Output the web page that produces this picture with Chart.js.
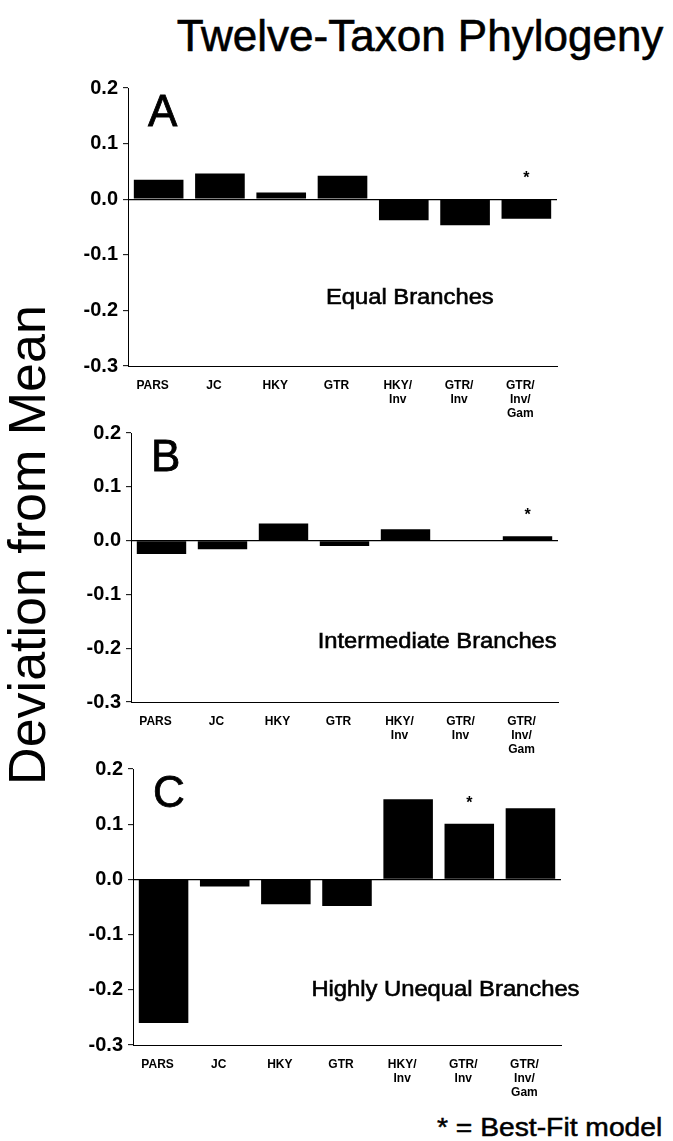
<!DOCTYPE html>
<html>
<head>
<meta charset="utf-8">
<script src="https://cdn.jsdelivr.net/npm/chart.js@4.4.1/dist/chart.umd.min.js"></script>
<style>
  html, body { margin:0; padding:0; background:#fff; }
  body { width:673px; height:1141px; position:relative; overflow:hidden; font-family:"Liberation Sans", Arial, sans-serif; }
  .cv { position:absolute; left:0; width:673px; }
  #title { position:absolute; left:420px; top:14px; transform:translateX(-50%); font-size:44px; white-space:nowrap; color:#000; line-height:1; -webkit-text-stroke:0.6px #000; }
  #ylab { position:absolute; left:27px; top:545px; transform:translate(-50%,-50%) rotate(-90deg); font-size:52px; white-space:nowrap; color:#000; line-height:1; }
  #foot { position:absolute; left:437px; top:1115px; font-size:25px; white-space:nowrap; color:#000; line-height:1; transform-origin:left center; transform:scaleX(1.13); -webkit-text-stroke:0.5px #000; }
</style>
</head>
<body>
<div id="title">Twelve-Taxon Phylogeny</div>
<div id="ylab">Deviation from Mean</div>
<canvas id="cA" class="cv" style="top:70px" width="673" height="358"></canvas>
<canvas id="cB" class="cv" style="top:416px" width="673" height="348"></canvas>
<canvas id="cC" class="cv" style="top:752px" width="673" height="355"></canvas>
<div id="foot">* = Best-Fit model</div>
<script>
// ---- data ----
const categories = ['PARS', 'JC', 'HKY', 'GTR', ['HKY/', 'Inv'], ['GTR/', 'Inv'], ['GTR/', 'Inv/', 'Gam']];
const equalBranches        = [0.035, 0.046, 0.012, 0.042, -0.038, -0.047, -0.035];
const intermediateBranches = [-0.025, -0.016, 0.032, -0.010, 0.021, 0.001, 0.008];
const unequalBranches      = [-0.260, -0.013, -0.045, -0.048, 0.145, 0.101, 0.129];
const bestFitA = 6, bestFitB = 6, bestFitC = 5;
const panelLetters = ['A', 'B', 'C'];
const panelNames = ['Equal Branches', 'Intermediate Branches', 'Highly Unequal Branches'];
const yMin = -0.3, yMax = 0.2, yStep = 0.1;

const FONT = '"Liberation Sans", Arial, sans-serif';

function makePanel(id, values, star, letter, name, lay) {
  const annot = {
    id: 'annot_' + id,
    afterDatasetsDraw(chart) {
      const {ctx, chartArea: ca, scales: {x, y}} = chart;
      ctx.save();
      ctx.fillStyle = '#000';
      ctx.strokeStyle = '#000';
      // panel letter
      ctx.font = '44px ' + FONT;
      ctx.textAlign = 'left';
      ctx.textBaseline = 'top';
      ctx.lineWidth = 0.8;
      ctx.fillText(letter, ca.left + lay.letterDx, ca.top + lay.letterDy);
      ctx.strokeText(letter, ca.left + lay.letterDx, ca.top + lay.letterDy);
      // subtitle
      ctx.font = '22px ' + FONT;
      ctx.textAlign = 'center';
      ctx.textBaseline = 'middle';
      ctx.lineWidth = 0.6;
      const nx = ca.left + lay.nameFx * (ca.right - ca.left), ny = ca.top + lay.nameFy * (ca.bottom - ca.top);
      ctx.save();
      ctx.translate(nx, ny);
      ctx.scale(1.08, 1);
      ctx.fillText(name, 0, 0);
      ctx.strokeText(name, 0, 0);
      ctx.restore();
      // best-fit asterisk
      const px = x.getPixelForValue(star);
      const py = y.getPixelForValue(Math.max(values[star], 0));
      ctx.font = 'bold 16px ' + FONT;
      ctx.textBaseline = 'alphabetic';
      ctx.fillText('*', px, py - 16);
      ctx.restore();
    }
  };
  return new Chart(document.getElementById(id), {
    type: 'bar',
    data: {
      labels: categories,
      datasets: [{
        data: values,
        backgroundColor: '#000',
        borderWidth: 0,
        categoryPercentage: 1.0,
        barPercentage: 0.81
      }]
    },
    options: {
      responsive: false,
      animation: false,
      devicePixelRatio: 1,
      layout: { padding: { top: lay.top, right: lay.right, left: 0, bottom: 0 } },
      plugins: { legend: { display: false }, tooltip: { enabled: false }, title: { display: false } },
      scales: {
        x: {
          grid: { display: false },
          border: { display: true, color: '#000', width: 1 },
          ticks: { color: '#000', font: { family: FONT, size: 12, weight: 'bold', lineHeight: 1.2 }, padding: 4, labelOffset: -6, maxRotation: 0, autoSkip: false },
          afterFit(s) { s.height = lay.xh; }
        },
        y: {
          min: yMin, max: yMax,
          grid: {
            color: c => (c.tick && Math.abs(c.tick.value) < 1e-9) ? '#000' : 'rgba(0,0,0,0)',
            lineWidth: 1.3,
            drawTicks: true, tickLength: 5, tickColor: '#000', tickWidth: 1
          },
          border: { display: true, color: '#000', width: 1 },
          ticks: {
            stepSize: yStep, color: '#000', padding: 5,
            font: { family: FONT, size: 20, weight: 'bold' },
            callback: v => (Math.abs(v) < 1e-9 ? 0 : v).toFixed(1)
          },
          afterFit(s) { s.width = lay.yw; }
        }
      }
    },
    plugins: [annot]
  });
}

makePanel('cA', equalBranches, bestFitA, panelLetters[0], panelNames[0],
  { top: 18, right: 116, yw: 128, xh: 62, letterDx: 20, letterDy: 4, nameFx: 0.657, nameFy: 0.755 });
makePanel('cB', intermediateBranches, bestFitB, panelLetters[1], panelNames[1],
  { top: 15, right: 115, yw: 131, xh: 62, letterDx: 20, letterDy: 4, nameFx: 0.717, nameFy: 0.775 });
makePanel('cC', unequalBranches, bestFitC, panelLetters[2], panelNames[2],
  { top: 16, right: 112, yw: 133, xh: 62, letterDx: 20, letterDy: 4, nameFx: 0.73, nameFy: 0.80 });
</script>
</body>
</html>
